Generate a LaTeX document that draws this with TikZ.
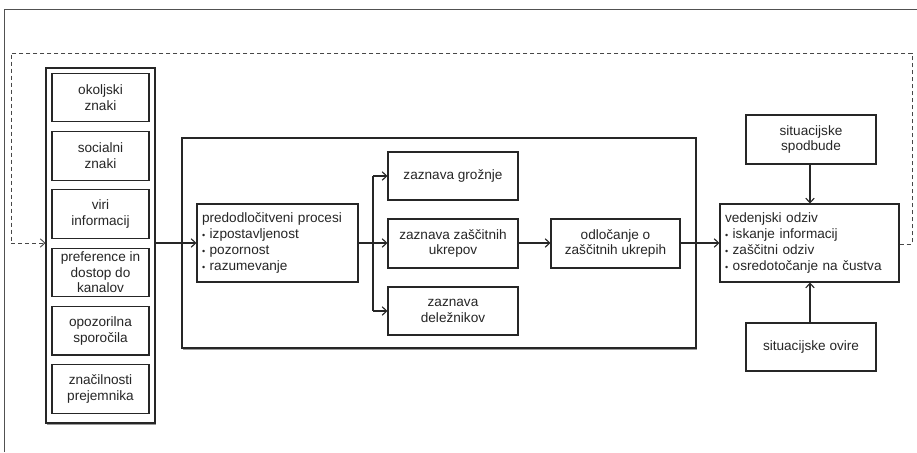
\documentclass[tikz,border=0pt]{standalone}
\usepackage{fontspec}
\setmainfont{Liberation Sans}
\usetikzlibrary{arrows.meta,shadows}
\definecolor{ink}{HTML}{262626}
\newcommand{\bul}{{\fontsize{9}{9}\selectfont\textbullet}\ }
\begin{document}
\begin{tikzpicture}[x=1pt,y=-1pt,
  every node/.style={font=\fontsize{13.6}{15.7}\selectfont, text=ink},
  box/.style={draw=ink, line width=1.1pt, rectangle, inner sep=0pt, align=center},
  lbox/.style={draw=ink, line width=1.1pt, rectangle, inner xsep=5pt, inner ysep=0pt, align=left},
  arr/.style={draw=ink, line width=1.1pt, -{Straight Barb[length=4.5pt,width=8.5pt]}},
  ln/.style={draw=ink, line width=1.1pt},
  dashline/.style={draw=ink!85, line width=0.9pt, dash pattern=on 4pt off 3pt},
  shad/.style={drop shadow={shadow xshift=1.2pt, shadow yshift=-2pt, opacity=0.5, fill=black!80}}
]
\useasboundingbox (0,0) rectangle (917,452);
% outer frame (cropped)
\draw[draw=ink!80, line width=1pt] (4,452) -- (4,10) -- (917,10);

% left column
\node[box, fill=white, shad, minimum width=109pt, minimum height=355pt] (col) at (100.5,245.5) {};
\node[box, minimum width=97pt, minimum height=48.5pt] (b1) at (100.5,97.5) {okoljski\\znaki};
\node[box, minimum width=97pt, minimum height=48.5pt] (b2) at (100.5,155.8) {socialni\\znaki};
\node[box, minimum width=97pt, minimum height=48.5pt] (b3) at (100.5,214.1) {viri\\informacij};
\node[box, minimum width=97pt, minimum height=48.5pt] (b4) at (100.5,272.4) {preference in\\dostop do\\kanalov};
\node[box, minimum width=97pt, minimum height=48.5pt] (b5) at (100.5,330.7) {opozorilna\\sporočila};
\node[box, minimum width=97pt, minimum height=48.5pt] (b6) at (100.5,389.0) {značilnosti\\prejemnika};

% big box
\node[box, fill=white, shad, minimum width=514pt, minimum height=210pt] (big) at (439,243) {};

% predecisional
\node[lbox, text width=151pt, minimum height=78pt] (pre) at (277.5,243)
  {predodločitveni procesi\\\bul izpostavljenost\\\bul pozornost\\\bul razumevanje};

\node[box, minimum width=130pt, minimum height=48pt] (thr) at (453,176) {zaznava grožnje};
\node[box, minimum width=130pt, minimum height=49pt] (prot) at (453,243.5) {zaznava zaščitnih\\ukrepov};
\node[box, minimum width=130pt, minimum height=48pt] (stk) at (453,311) {zaznava\\deležnikov};
\node[box, minimum width=129pt, minimum height=49pt] (dec) at (615.5,243.5) {odločanje o\\zaščitnih ukrepih};

% behavioural response
\node[lbox, text width=169pt, minimum height=78pt] (beh) at (809.5,243)
  {vedenjski odziv\\\bul iskanje informacij\\\bul zaščitni odziv\\\bul osredotočanje na čustva};
\node[box, minimum width=130pt, minimum height=49pt] (fac) at (811,139.5) {situacijske\\spodbude};
\node[box, minimum width=130pt, minimum height=48pt] (imp) at (811,347) {situacijske ovire};

% connectors
\coordinate (j) at (373,243);
\draw[arr] (col.east |- 0,243) -- (pre.west |- 0,243);
\draw[ln] (pre.east |- j) -- (j);
\draw[ln] (373,176) -- (373,311);
\draw[arr] (373,176) -- (thr.west);
\draw[arr] (j) -- (prot.west |- j);
\draw[arr] (373,311) -- (stk.west);
\draw[arr] (prot.east |- 0,243) -- (dec.west |- 0,243);
\draw[arr] (dec.east |- 0,243) -- (beh.west |- 0,243);
\draw[arr] (fac.south -| 810,0) -- (beh.north -| 810,0);
\draw[arr] (imp.north -| 810,0) -- (beh.south -| 810,0);

% feedback dashed loop
\coordinate (d1) at (912,244);
\coordinate (d2) at (912,53);
\coordinate (d3) at (11,53);
\coordinate (d4) at (11,243);
\draw[dashline] (beh.east |- d1) -- (d1) -- (d2) -- (d3) -- (d4);
\draw[dashline, -{Straight Barb[length=4.5pt,width=8.5pt]}] (d4) -- (col.west |- d4);
\end{tikzpicture}
\end{document}
